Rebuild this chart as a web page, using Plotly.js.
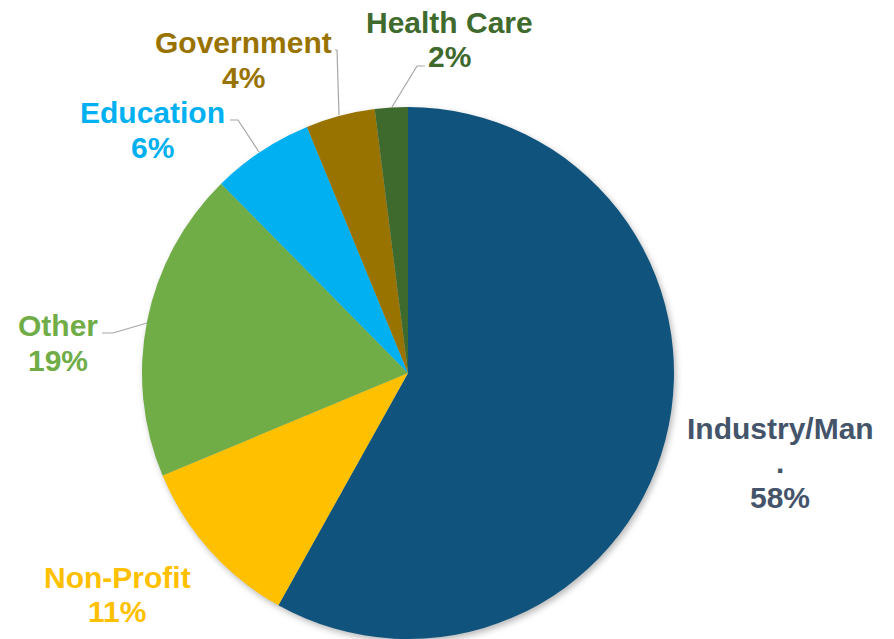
<!DOCTYPE html>
<html>
<head>
<meta charset="utf-8">
<script src="https://cdn.plot.ly/plotly-3.0.1.min.js"></script>
<style>
html,body{margin:0;padding:0;background:#fff;}
#chart{width:894px;height:639px;}
.pielayer{filter:drop-shadow(2px 3px 3px rgba(0,0,0,0.28));}
</style>
</head>
<body>
<div id="chart"></div>
<script>
const categories = ['Industry/Man\n.', 'Non-Profit', 'Other', 'Education', 'Government', 'Health Care'];
const shares = [58.1, 10.6, 18.9, 6.2, 4.2, 2.0];
const sliceColors = ['#10547E', '#FFC000', '#70AD47', '#00B0F0', '#997300', '#3F6A2D'];
const labelColors = ['#44546A', '#FFC000', '#70AD47', '#00B0F0', '#997300', '#3F6A2D'];

const W = 894, H = 639;
const px = x => x / W;
const py = y => 1 - y / H;
const LINE_GAP = 34.5;

// label block centres (pixels) and leader lines (pixel points)
const labelPos = [[780, 462.5], [117, 594.5], [58, 343], [152, 130], [243, 60], [449, 39.5]];
const leaders = [
  null, null,
  [[102, 333], [113, 333], [147, 323]],
  [[230, 120], [238, 120], [259, 152]],
  [[335, 50], [337, 50], [339, 115]],
  [[425, 66], [417, 66], [392, 107]]
];

const annotations = [];
categories.forEach((c, i) => {
  const lines = c.split('\n').concat([Math.round(shares[i]) + '%']);
  const top = labelPos[i][1] - (lines.length - 1) * LINE_GAP / 2;
  lines.forEach((t, k) => annotations.push({
    text: t,
    x: px(labelPos[i][0]), y: py(top + k * LINE_GAP),
    xref: 'paper', yref: 'paper', xanchor: 'center', yanchor: 'middle',
    showarrow: false, align: 'center',
    font: {family: 'Liberation Sans, Arial, sans-serif', size: 30, weight: 'bold', color: labelColors[i]}
  }));
});

const shapes = leaders.filter(l => l).map(l => ({
  type: 'path', xref: 'paper', yref: 'paper',
  path: l.map((p, j) => (j ? 'L' : 'M') + px(p[0]) + ',' + py(p[1])).join(' '),
  line: {color: '#A6A6A6', width: 1.2}
}));

const trace = {
  type: 'pie', labels: categories, values: shares, sort: false,
  direction: 'clockwise', rotation: 0, textinfo: 'none', hoverinfo: 'none',
  marker: {colors: sliceColors, line: {width: 0}},
  domain: {x: [142 / W, 674 / W], y: [0, (H - 107) / H]}
};

Plotly.newPlot('chart', [trace], {
  width: W, height: H, margin: {l: 0, r: 0, t: 0, b: 0},
  showlegend: false, paper_bgcolor: '#fff',
  annotations: annotations, shapes: shapes
}, {displayModeBar: false, staticPlot: true});
</script>
</body>
</html>
